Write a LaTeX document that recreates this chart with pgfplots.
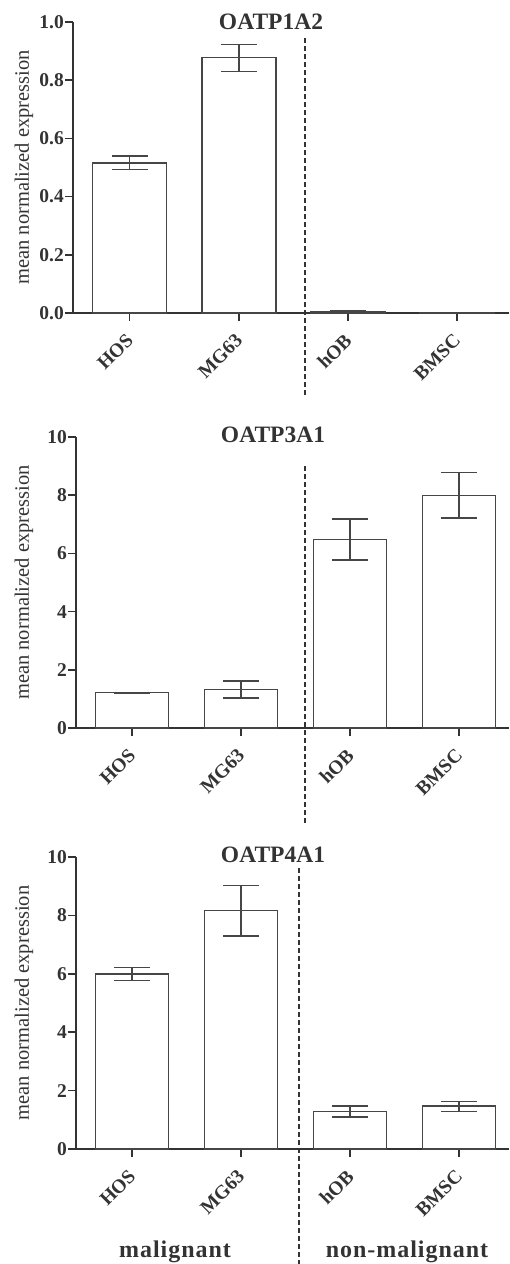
\documentclass[border=0pt]{standalone}
\usepackage{fontspec}
\setmainfont{Liberation Serif}
\usepackage{pgfplots}
\usepackage{pgfplotstable}
\pgfplotsset{compat=1.18}
\definecolor{ln}{HTML}{333333}
\definecolor{br}{HTML}{464646}

\pgfplotstableread{
x y ep em
0 0.515 0.025 0.022
1 0.877 0.046 0.047
2 0.005 0.002 0.002
3 0.001 0.000 0.000
}\tA
\pgfplotstableread{
x y ep em
0 1.21 0.01 0.01
1 1.32 0.30 0.29
2 6.48 0.70 0.71
3 7.99 0.80 0.78
}\tB
\pgfplotstableread{
x y ep em
0 5.99 0.23 0.22
1 8.16 0.87 0.86
2 1.28 0.19 0.19
3 1.47 0.16 0.19
}\tC

\pgfplotsset{
 panel/.style={
  scale only axis, enlargelimits=false, clip=false,
  axis lines=left, axis line style={-, draw=ln, line width=1.7pt},
  tick style={draw=ln, line width=1.5pt},
  tick align=outside, major tick length=8pt,
  xtick={0,1,2,3}, xticklabels={HOS,MG63,hOB,BMSC},
  x tick label style={rotate=45, anchor=north east, font=\bfseries\fontsize{19.5}{19.5}\selectfont, text=ln, inner sep=0pt, xshift=-11.3pt, yshift=-4.9pt},
  y tick label style={font=\bfseries\fontsize{19.5}{19.5}\selectfont, text=ln, inner sep=1pt},
  /pgf/number format/assume math mode=true,
  ylabel={mean normalized expression},
  ybar, bar shift=0pt,
 },
 bars/.style={fill=white, draw=br, line width=1.4pt,
  error bars/.cd, y dir=both, y explicit,
  error bar style={draw=br, line width=1.4pt},
  error mark options={draw=br, line width=1.4pt, mark size=18pt, rotate=90}},
}

\begin{document}
\begin{tikzpicture}
\useasboundingbox (0,0) rectangle (509pt,1264pt);

% Panel 1
\begin{axis}[panel, at={(73pt,951pt)}, anchor=south west,
  width=436pt, height=291pt, xmin=-0.52, xmax=3.477, ymin=0, ymax=1.0,
  ytick={0,0.2,0.4,0.6,0.8,1.0},
  yticklabel style={/pgf/number format/.cd, fixed, fixed zerofill, precision=1},
  bar width=74pt,
  every axis y label/.style={at={(axis description cs:-0.1124,0.5)}, rotate=90, anchor=center, text=ln, font=\fontsize{20.5}{20.5}\selectfont}]
\addplot[bars] table[x=x, y=y, y error plus=ep, y error minus=em] {\tA};
\draw[ln, line width=1.5pt, dash pattern=on 5pt off 3pt] (axis cs:1.607,0.945) -- (axis cs:1.607,-0.289);
\end{axis}

% Panel 2
\begin{axis}[panel, at={(76pt,536pt)}, anchor=south west,
  width=433pt, height=291pt, xmin=-0.514, xmax=3.459, ymin=0, ymax=10,
  ytick={0,2,4,6,8,10},
  bar width=73pt,
  every axis y label/.style={at={(axis description cs:-0.120,0.5)}, rotate=90, anchor=center, text=ln, font=\fontsize{20.5}{20.5}\selectfont}]
\addplot[bars] table[x=x, y=y, y error plus=ep, y error minus=em] {\tB};
\draw[ln, line width=1.5pt, dash pattern=on 5pt off 3pt] (axis cs:1.587,9.0) -- (axis cs:1.587,-3.32);
\end{axis}

% Panel 3
\begin{axis}[panel, at={(76pt,115pt)}, anchor=south west,
  width=433pt, height=292pt, xmin=-0.514, xmax=3.459, ymin=0, ymax=10,
  ytick={0,2,4,6,8,10},
  bar width=73pt,
  every axis y label/.style={at={(axis description cs:-0.120,0.5)}, rotate=90, anchor=center, text=ln, font=\fontsize{20.5}{20.5}\selectfont}]
\addplot[bars] table[x=x, y=y, y error plus=ep, y error minus=em] {\tC};
\draw[ln, line width=1.5pt, dash pattern=on 5pt off 3pt] (axis cs:1.532,9.62) -- (axis cs:1.532,-3.94);
\end{axis}

% Titles
\node[anchor=base, font=\bfseries\fontsize{23.5}{23.5}\selectfont, text=ln] at (271pt,1234pt) {OATP1A2};
\node[anchor=base, font=\bfseries\fontsize{23.5}{23.5}\selectfont, text=ln] at (273pt,821pt) {OATP3A1};
\node[anchor=base, font=\bfseries\fontsize{23.5}{23.5}\selectfont, text=ln] at (273pt,401pt) {OATP4A1};

% Group labels
\node[anchor=base, font=\bfseries\fontsize{24}{24}\selectfont\addfontfeature{LetterSpace=4}, text=ln] at (175pt,6pt) {malignant};
\node[anchor=base, font=\bfseries\fontsize{24}{24}\selectfont\addfontfeature{LetterSpace=4}, text=ln] at (407pt,6pt) {non-malignant};
\end{tikzpicture}
\end{document}
